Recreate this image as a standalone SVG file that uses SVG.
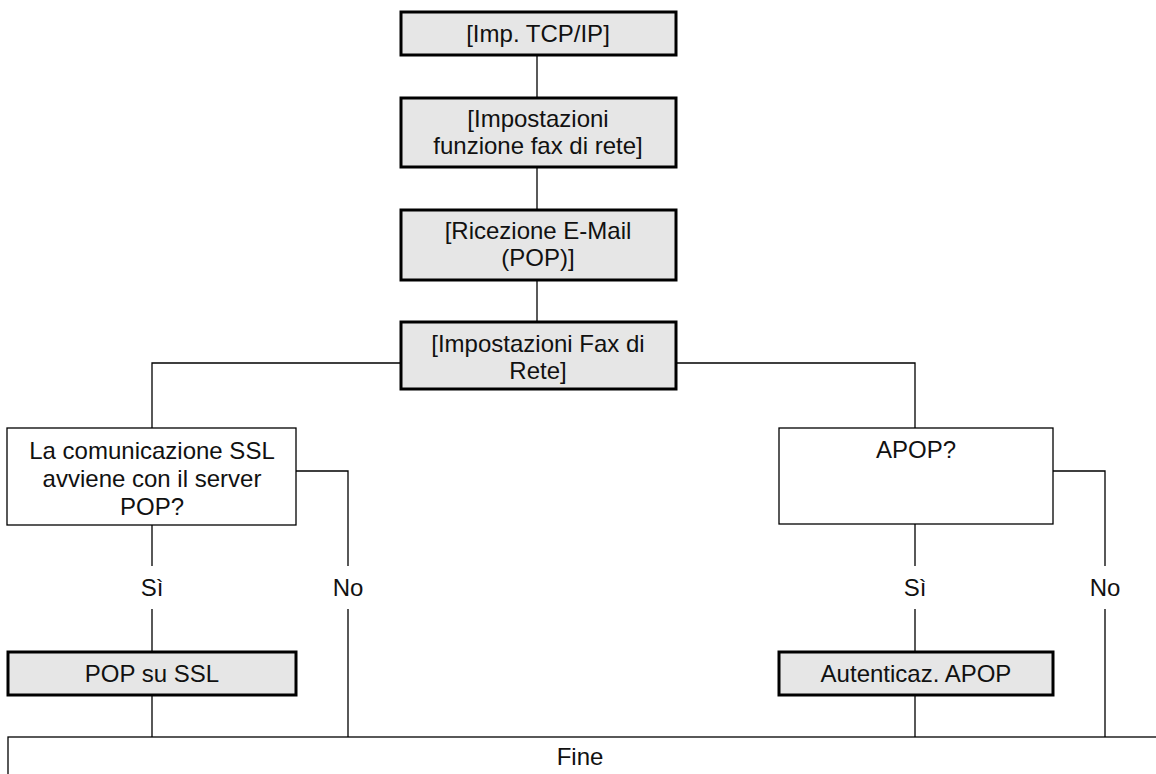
<svg xmlns="http://www.w3.org/2000/svg" width="1156" height="774" viewBox="0 0 1156 774">
<style>
.proc{fill:#e6e6e6;stroke:#000;stroke-width:3}
.dec{fill:#fff;stroke:#000;stroke-width:1.3}
.ln{fill:none;stroke:#000;stroke-width:1.3}
text{font-family:"Liberation Sans",Arial,Helvetica,sans-serif;font-size:24px;fill:#111;text-anchor:middle}
</style>
<rect width="1156" height="774" fill="#fff"/>
<g id="connectors">
<path class="ln" d="M537 55V98"/>
<path class="ln" d="M537 167V210"/>
<path class="ln" d="M537 280V322"/>
<path class="ln" d="M400 363H152V428"/>
<path class="ln" d="M676 363H915V428"/>
<path class="ln" d="M152 525V566M152 609V652M152 695V737"/>
<path class="ln" d="M296 471H348V566M348 609V737"/>
<path class="ln" d="M915 524V566M915 609V652M915 695V737"/>
<path class="ln" d="M1053 471H1105V566M1105 609V737"/>
</g>
<g id="n1"><rect class="proc" x="401" y="12" width="275" height="43"/><text x="538" y="42">[Imp. TCP/IP]</text></g>
<g id="n2"><rect class="proc" x="401" y="98" width="275" height="69"/><text x="538" y="127">[Impostazioni</text><text x="538" y="154">funzione fax di rete]</text></g>
<g id="n3"><rect class="proc" x="401" y="210" width="275" height="70"/><text x="538" y="239">[Ricezione E-Mail</text><text x="538" y="266">(POP)]</text></g>
<g id="n4"><rect class="proc" x="401" y="322" width="275" height="67"/><text x="538" y="352">[Impostazioni Fax di</text><text x="538" y="379">Rete]</text></g>
<g id="d1"><rect class="dec" x="7" y="428" width="289" height="97"/><text x="152" y="459">La comunicazione SSL</text><text x="152" y="487">avviene con il server</text><text x="152" y="515">POP?</text></g>
<g id="d2"><rect class="dec" x="779" y="428" width="274" height="96"/><text x="916" y="458">APOP?</text></g>
<g id="labels"><text x="152" y="596">Sì</text><text x="348" y="596">No</text><text x="915" y="596">Sì</text><text x="1105" y="596">No</text></g>
<g id="p1"><rect class="proc" x="8" y="652" width="288" height="43"/><text x="152" y="682">POP su SSL</text></g>
<g id="p2"><rect class="proc" x="779" y="652" width="274" height="43"/><text x="916" y="682">Autenticaz. APOP</text></g>
<g id="end"><rect class="dec" x="8" y="737" width="1160" height="60"/><text x="580" y="765">Fine</text></g>
</svg>
